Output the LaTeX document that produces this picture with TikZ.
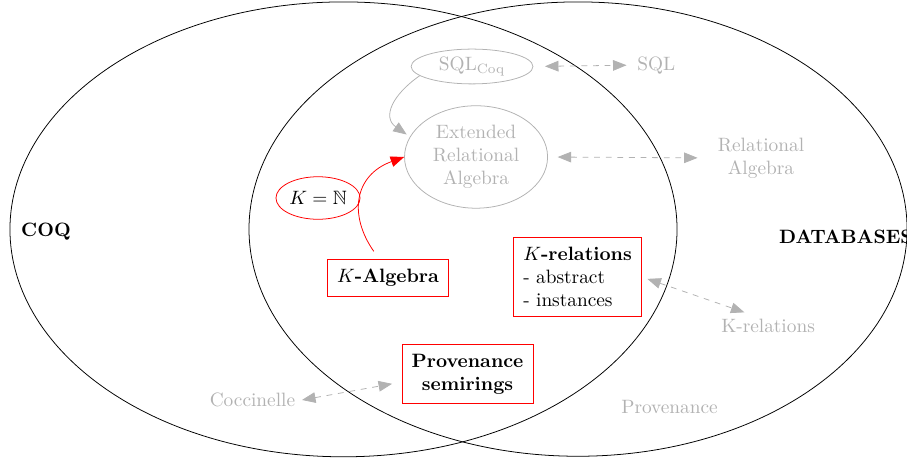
\documentclass[tikz,border=0pt]{standalone}
\usepackage{amsmath,amssymb}
\usetikzlibrary{positioning,arrows.meta,shapes.geometric}

\begin{document}
\begin{tikzpicture}[
        box/.style={draw=red, inner sep=5pt, align=center},
        blob/.style={ellipse, draw=gray!60, text=gray!60, inner sep=0pt, align=center},
        outside/.style={text=gray!60, align=center},
        link/.style={gray!60, dashed, {Triangle[length=7pt,width=5.5pt]}-{Triangle[length=7pt,width=5.5pt]}}
    ]
        \useasboundingbox (0,0) rectangle (16.49,8.345);

        % the two sets
        \draw (6.245,4.175) ellipse (6.064 and 4.135);
        \draw (10.509,4.18) ellipse (5.982 and 4.13);
        \node[font=\bfseries] (coq) at (0.836,4.127) {COQ};
        \node[font=\bfseries] (db) at (15.38,4.036) {DATABASES};

        % already there
        \node[blob, minimum width=63pt, minimum height=18pt] (sqlcoq) at (8.582,7.136) {SQL$_{\text{Coq}}$};
        \node[blob, minimum width=74pt, minimum height=53pt] (era) at (8.655,5.491) {Extended\\Relational\\Algebra};
        \node[outside] (sql) at (11.93,7.16) {SQL};
        \node[outside] (ra) at (13.836,5.473) {Relational\\Algebra};
        \node[outside] (krelout) at (13.964,2.418) {K-relations};
        \node[outside] (cocci) at (4.59,1.073) {Coccinelle};
        \node[outside] (prov) at (12.173,0.945) {Provenance};

        \draw[gray!60, -{Triangle[length=7pt,width=5.5pt]}, shorten >=2pt] (sqlcoq.190) to[out=215, in=145, looseness=1.4] (era.163);
        \draw[link, shorten <=6pt, shorten >=2pt] (sqlcoq.east) -- (sql.west);
        \draw[link, shorten <=5pt, shorten >=7pt] (era.east) -- (ra.west);

        % new work
        \node[draw=red, ellipse, inner sep=0.5pt, minimum height=22pt] (kn) at (5.782,4.745) {$K=\mathbb{N}$};
        \node[box, font=\bfseries] (kalg) at (7.055,3.291) {$K$-Algebra};
        \node[box, align=left] (krel) at (10.5,3.309) {\textbf{$K$-relations}\\- abstract\\- instances};
        \node[box, font=\bfseries] (provsr) at (8.5,1.545) {Provenance\\semirings};

        \draw[red, -{Triangle[length=7pt,width=5.5pt]}, shorten <=5pt] (kalg.115) to[out=125, in=200, looseness=1.3] (era.west);
        \draw[link, shorten <=3pt] (krel.east) -- (krelout.150);
        \draw[link, shorten >=5pt] (cocci.east) -- (provsr.187);
    \end{tikzpicture}
\end{document}
